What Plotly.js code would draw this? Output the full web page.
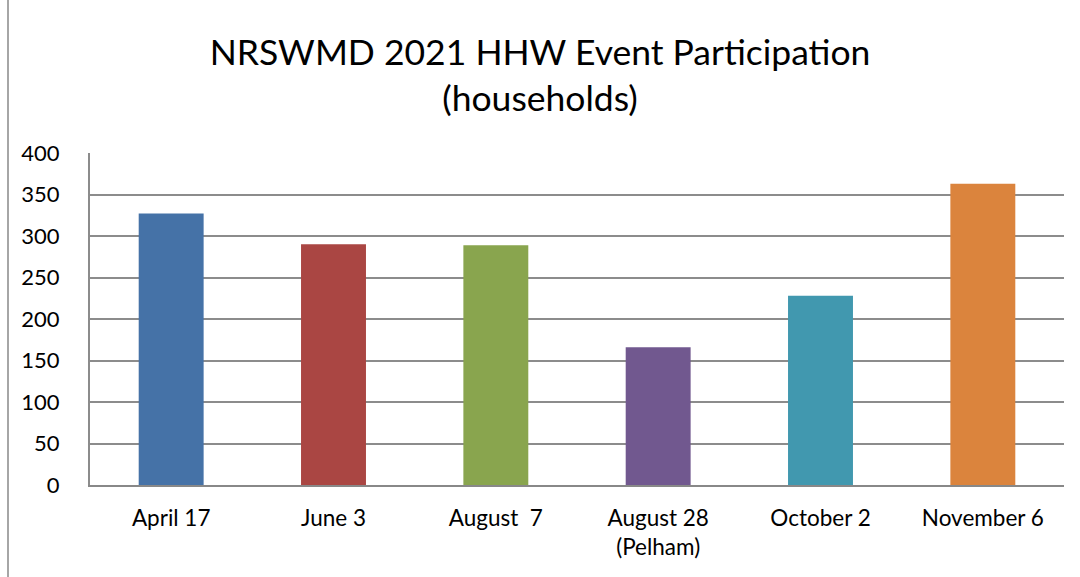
<!DOCTYPE html>
<html>
<head>
<meta charset="utf-8">
<script src="https://cdn.plot.ly/plotly-3.0.1.min.js"></script>
<style>
  body { margin: 0; background: #fff; }
  #frame { position: absolute; left: 7px; top: 0; width: 1073px; height: 577px; border-left: 2px solid #a6a6a6; box-sizing: border-box; }
  #chart { position: absolute; left: 0; top: 0; width: 1080px; height: 577px; }
</style>
</head>
<body>
<div id="frame"></div>
<div id="chart"></div>
<script>
const events = ['April 17', 'June 3', 'August  7', 'August 28<br>(Pelham)', 'October 2', 'November 6'];
const households = [327, 290, 289, 166, 228, 363];
const barColors = ['#4572a7', '#aa4643', '#89a54e', '#71588f', '#4198af', '#db843d'];

const trace = {
    type: 'bar',
    x: events,
    y: households,
    marker: { color: barColors },
    hoverinfo: 'x+y'
};

const layout = {
    width: 1080,
    height: 577,
    margin: { l: 90, r: 16, t: 153, b: 92 },
    paper_bgcolor: 'rgba(0,0,0,0)',
    plot_bgcolor: 'rgba(0,0,0,0)',
    bargap: 0.6,
    showlegend: false,
    font: { family: 'Lato, "Open Sans", sans-serif', color: '#000' },
    title: {
        text: 'NRSWMD 2021 HHW Event Participation<br>(households)',
        font: { size: 35.5, family: 'Lato, "Open Sans", sans-serif', color: '#000' },
        x: 0.5,
        xanchor: 'center',
        yref: 'container',
        y: 0.888,
        yanchor: 'middle'
    },
    xaxis: {
        tickfont: { size: 22.5 },
        showgrid: false,
        showline: true,
        linecolor: '#888',
        linewidth: 2,
        ticks: '',
        ticklabelstandoff: 12
    },
    yaxis: {
        range: [0, 400],
        dtick: 50,
        tickfont: { size: 22 },
        showgrid: true,
        gridcolor: '#8c8c8c',
        gridwidth: 2,
        zeroline: false,
        showline: true,
        linecolor: '#8c8c8c',
        linewidth: 2,
        ticks: '',
        ticklabelstandoff: 24
    }
};

Plotly.newPlot('chart', [trace], layout, { displayModeBar: false });
</script>
</body>
</html>
